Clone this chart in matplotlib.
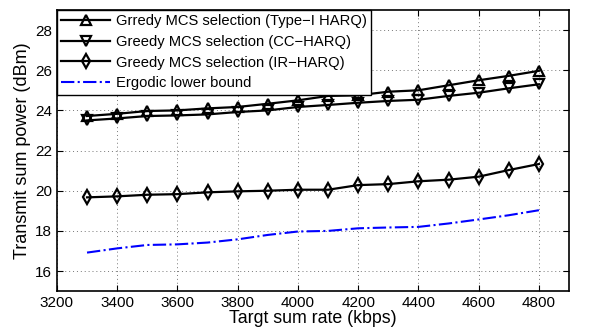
import matplotlib
matplotlib.use('Agg')
import matplotlib.pyplot as plt

plt.rcParams['font.family'] = ['Liberation Sans', 'DejaVu Sans']

# Target sum rate (kbps)
rate = [3300, 3400, 3500, 3600, 3700, 3800, 3900, 4000,
        4100, 4200, 4300, 4400, 4500, 4600, 4700, 4800]

# Transmit sum power (dBm)
type1_harq = [23.72, 23.83, 23.97, 24.0, 24.1, 24.17, 24.33, 24.5,
              24.72, 24.75, 24.93, 25.0, 25.25, 25.5, 25.72, 25.97]
cc_harq = [23.5, 23.6, 23.72, 23.75, 23.8, 23.92, 24.0, 24.17,
           24.27, 24.38, 24.47, 24.53, 24.72, 24.88, 25.1, 25.3]
ir_harq = [19.67, 19.72, 19.8, 19.83, 19.92, 19.97, 20.0, 20.05,
           20.05, 20.28, 20.33, 20.47, 20.55, 20.7, 21.03, 21.33]
ergodic = [16.92, 17.13, 17.3, 17.33, 17.42, 17.58, 17.8, 17.97,
           18.0, 18.13, 18.17, 18.2, 18.37, 18.57, 18.78, 19.03]

xticks = list(range(3200, 4801, 200))
yticks = list(range(16, 29, 2))

fig = plt.figure(figsize=(5.99, 3.32), dpi=100)
ax = fig.add_axes([0.095, 0.123, 0.855, 0.847])

mk = dict(color='black', lw=1.6, ms=7.5, mfc='none', mew=1.6)
ax.plot(rate, type1_harq, marker='^', label='Grredy MCS selection (Type\u2212I HARQ)', **mk)
ax.plot(rate, cc_harq, marker='v', label='Greedy MCS selection (CC\u2212HARQ)', **mk)
ax.plot(rate, ir_harq, marker='d', label='Greedy MCS selection (IR\u2212HARQ)', **mk)
ax.plot(rate, ergodic, '-.', color='blue', lw=1.5, label='Ergodic lower bound')

ax.set_xlim(3200, 4900)
ax.set_ylim(15, 29)
ax.set_xticks(xticks)
ax.set_yticks(yticks)
ax.tick_params(direction='in', top=True, right=True, labelsize=11, length=4)
ax.grid(True, linestyle=(0, (1, 3)), color='#777777', linewidth=0.7)
for s in ax.spines.values():
    s.set_linewidth(1.2)

ax.set_xlabel('Targt sum rate (kbps)', fontsize=12.8, labelpad=0)
ax.set_ylabel('Transmit sum power (dBm)', fontsize=13, labelpad=3)

leg = ax.legend(loc='upper left', fontsize=10.6, frameon=True, fancybox=False,
                edgecolor='black', framealpha=1, borderaxespad=0,
                handlelength=3.3, labelspacing=0.45, borderpad=0.3,
                handletextpad=0.4)
leg.get_frame().set_linewidth(1.0)

fig.savefig('out.png', dpi=100)
